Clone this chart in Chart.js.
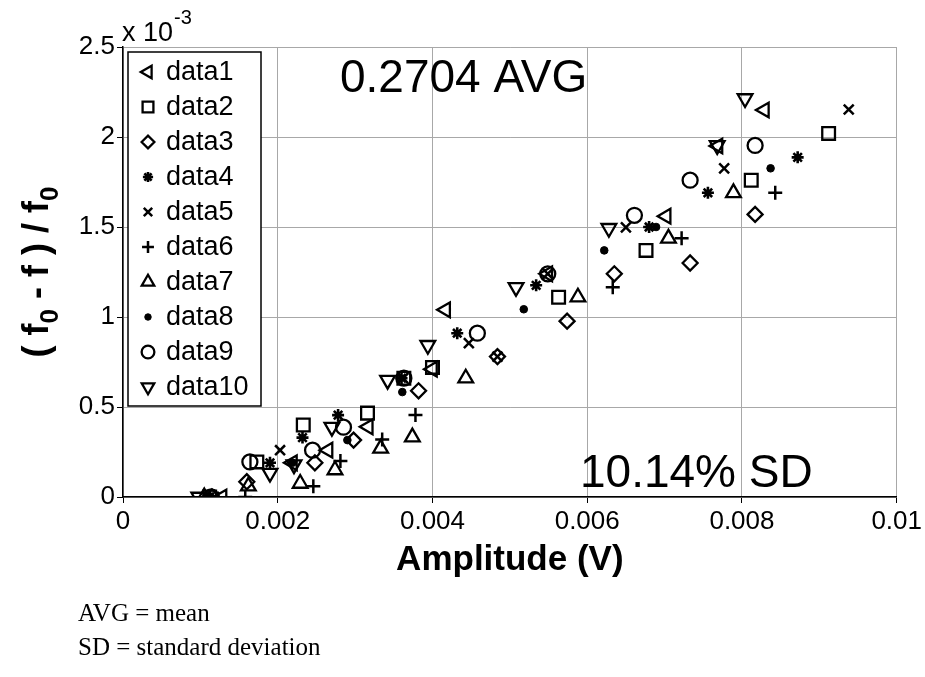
<!DOCTYPE html>
<html>
<head>
<meta charset="utf-8">
<script src="https://cdn.jsdelivr.net/npm/chart.js"></script>
<style>
  body { margin: 0; background: #fff; }
  #wrap { width: 925px; height: 677px; }
</style>
</head>
<body>
<div id="wrap"><canvas id="grafica" width="925" height="677"></canvas></div>
<script>
// valores (x en V, y en unidades de 10^-3)
var data1X = [0.00128, 0.00219, 0.00265, 0.00317, 0.00400, 0.00417, 0.00549, 0.00702, 0.00769, 0.00829];
var data1Y = [0, 0.19, 0.26, 0.39, 0.71, 1.04, 1.24, 1.56, 1.95, 2.15];
var data2X = [0.00112, 0.00173, 0.00233, 0.00316, 0.00363, 0.00400, 0.00563, 0.00676, 0.00812, 0.00912];
var data2Y = [0, 0.195, 0.40, 0.466, 0.66, 0.72, 1.11, 1.37, 1.76, 2.02];
var data3X = [0.00115, 0.00160, 0.00248, 0.00298, 0.00382, 0.00484, 0.00574, 0.00635, 0.00733, 0.00817];
var data3Y = [0, 0.085, 0.19, 0.316, 0.59, 0.78, 0.977, 1.24, 1.30, 1.57];
var data4X = [0.00112, 0.00190, 0.00232, 0.00278, 0.00360, 0.00432, 0.00534, 0.00680, 0.00756, 0.00872];
var data4Y = [0, 0.19, 0.33, 0.455, 0.66, 0.91, 1.176, 1.50, 1.69, 1.887];
var data5X = [0.00118, 0.00203, 0.00362, 0.00447, 0.00484, 0.00549, 0.00650, 0.00777, 0.00938];
var data5Y = [0, 0.26, 0.66, 0.855, 0.78, 1.24, 1.498, 1.826, 2.153];
var data6X = [0.00158, 0.00246, 0.00281, 0.00335, 0.00378, 0.00633, 0.00722, 0.00843];
var data6Y = [0, 0.06, 0.20, 0.32, 0.455, 1.165, 1.437, 1.69];
var data7X = [0.00105, 0.00162, 0.00229, 0.00274, 0.00333, 0.00374, 0.00443, 0.00588, 0.00705, 0.00789];
var data7Y = [0, 0.06, 0.075, 0.15, 0.27, 0.333, 0.66, 1.11, 1.437, 1.69];
var data8X = [0.00108, 0.00219, 0.00290, 0.00361, 0.00518, 0.00622, 0.00689, 0.00837];
var data8Y = [0, 0.19, 0.316, 0.583, 1.043, 1.37, 1.50, 1.826];
var data9X = [0.00114, 0.00164, 0.00245, 0.00285, 0.00363, 0.00458, 0.00549, 0.00661, 0.00733, 0.00817];
var data9Y = [0, 0.195, 0.26, 0.388, 0.66, 0.91, 1.24, 1.565, 1.76, 1.953];
var data10X = [0.00098, 0.00190, 0.00221, 0.00270, 0.00342, 0.00394, 0.00508, 0.00628, 0.00768, 0.00804];
var data10Y = [0, 0.133, 0.18, 0.388, 0.649, 0.843, 1.165, 1.493, 1.953, 2.214];

var seriesNames = ['data1', 'data2', 'data3', 'data4', 'data5', 'data6', 'data7', 'data8', 'data9', 'data10'];
var xTicks = [0, 0.002, 0.004, 0.006, 0.008, 0.01];
var yTicks = [0, 0.5, 1, 1.5, 2, 2.5];
var avgText = '0.2704 AVG';
var sdText = '10.14% SD';
var notas = ['AVG = mean', 'SD = standard deviation'];

var allX = [data1X, data2X, data3X, data4X, data5X, data6X, data7X, data8X, data9X, data10X];
var allY = [data1Y, data2Y, data3Y, data4Y, data5Y, data6Y, data7Y, data8Y, data9Y, data10Y];

// marcador de cada serie
var estilos = [
  {s: 'triangle', r: 8.5, rot: 270, bw: 2.3},
  {s: 'rect', r: 9, rot: 0, bw: 2.3},
  {s: 'rectRot', r: 7.5, rot: 0, bw: 2.3},
  {s: 'star', r: 6, rot: 0, bw: 2.6},
  {s: 'crossRot', r: 7, rot: 0, bw: 2.5},
  {s: 'cross', r: 7, rot: 0, bw: 2.5},
  {s: 'triangle', r: 8.5, rot: 0, bw: 2.3},
  {s: 'circle', r: 3.8, rot: 0, bw: 1, fill: true},
  {s: 'circle', r: 7.5, rot: 0, bw: 2.3},
  {s: 'triangle', r: 8.5, rot: 180, bw: 2.3}
];

var datasets = [];
for (var i = 0; i < seriesNames.length; i++) {
  var pts = [];
  for (var j = 0; j < allX[i].length; j++) {
    pts.push({x: allX[i][j], y: allY[i][j]});
  }
  datasets.push({
    label: seriesNames[i],
    data: pts,
    showLine: false,
    pointStyle: estilos[i].s,
    pointRadius: estilos[i].r,
    pointRotation: estilos[i].rot,
    pointBorderWidth: estilos[i].bw,
    borderColor: '#000',
    backgroundColor: estilos[i].fill ? '#000' : 'rgba(0,0,0,0)'
  });
}

var SANS = '"Liberation Sans", Arial, sans-serif';
var tickFont = {family: SANS, size: 26};

var textos = {
  id: 'textos',
  afterDraw: function(chart) {
    var ctx = chart.ctx;
    var area = chart.chartArea;
    ctx.save();
    ctx.fillStyle = '#000';

    // multiplicador del eje y
    ctx.textAlign = 'left';
    ctx.textBaseline = 'alphabetic';
    ctx.font = '27px ' + SANS;
    ctx.fillText('x 10', 122, 41);
    var w = ctx.measureText('x 10').width;
    ctx.font = '20px ' + SANS;
    ctx.fillText('-3', 122 + w + 1, 24);

    // titulo eje x
    ctx.font = 'bold 35px ' + SANS;
    ctx.textAlign = 'center';
    ctx.fillText('Amplitude (V)', (area.left + area.right) / 2, 570);

    // titulo eje y con subindices
    var partes = [['( ', 0], ['f', 0], ['0', 1], [' - ', 0], ['f', 0], [' ) / ', 0], ['f', 0], ['0', 1]];
    var fMain = 'bold 36px ' + SANS, fSub = 'bold 26px ' + SANS;
    var total = 0;
    partes.forEach(function(p) { ctx.font = p[1] ? fSub : fMain; total += ctx.measureText(p[0]).width; });
    ctx.translate(48, (area.top + area.bottom) / 2);
    ctx.rotate(-Math.PI / 2);
    ctx.textAlign = 'left';
    var px = -total / 2;
    partes.forEach(function(p) {
      ctx.font = p[1] ? fSub : fMain;
      ctx.fillText(p[0], px, p[1] ? 10 : 0);
      px += ctx.measureText(p[0]).width;
    });
    ctx.setTransform(1, 0, 0, 1, 0, 0);

    // anotaciones
    ctx.textAlign = 'left';
    ctx.font = '46px ' + SANS;
    ctx.fillText(avgText, 340, 92);
    ctx.fillText(sdText, 580, 487);

    // leyenda dentro del area
    var lx = 128, ly = 52, lw = 133, lh = 354;
    ctx.fillStyle = '#fff';
    ctx.fillRect(lx, ly, lw, lh);
    ctx.strokeStyle = '#000';
    ctx.lineWidth = 1.5;
    ctx.strokeRect(lx, ly, lw, lh);
    ctx.font = '27px ' + SANS;
    ctx.textBaseline = 'middle';
    for (var k = 0; k < seriesNames.length; k++) {
      var cy = 72 + k * 35;
      var e = estilos[k];
      ctx.fillStyle = e.fill ? '#000' : 'rgba(0,0,0,0)';
      ctx.strokeStyle = '#000';
      ctx.lineWidth = e.bw;
      Chart.helpers.drawPoint(ctx, {pointStyle: e.s, radius: e.r * 0.85, rotation: e.rot, borderWidth: e.bw}, 148, cy);
      ctx.fillStyle = '#000';
      ctx.fillText(seriesNames[k], 166, cy + 1);
    }

    // notas al pie
    ctx.textBaseline = 'alphabetic';
    ctx.font = '25px "Liberation Serif", "Times New Roman", serif';
    ctx.fillText(notas[0], 78, 621);
    ctx.fillText(notas[1], 78, 655);
    ctx.restore();
  }
};

var grafica = document.getElementById('grafica');
var chart = new Chart(grafica, {
  type: 'scatter',
  data: {datasets: datasets},
  plugins: [textos],
  options: {
    responsive: false,
    animation: false,
    layout: {padding: {left: 0, right: 28, top: 47, bottom: 0}},
    plugins: {legend: {display: false}, tooltip: {enabled: false}},
    scales: {
      x: {
        type: 'linear', min: 0, max: 0.01,
        afterBuildTicks: function(s) { s.ticks = xTicks.map(function(v) { return {value: v}; }); },
        ticks: {font: tickFont, color: '#000', maxRotation: 0, padding: 3,
          callback: function(v) { return String(Number(v.toFixed(4))); }},
        grid: {color: '#a8a8a8', lineWidth: 1, tickColor: '#000', tickLength: 6},
        border: {color: '#000', width: 1.5},
        afterFit: function(s) { s.height = 180; }
      },
      y: {
        type: 'linear', min: 0, max: 2.5,
        afterBuildTicks: function(s) { s.ticks = yTicks.map(function(v) { return {value: v}; }); },
        ticks: {font: tickFont, color: '#000', padding: 2,
          callback: function(v) { return String(v); }},
        grid: {color: '#a8a8a8', lineWidth: 1, tickColor: '#000', tickLength: 6},
        border: {color: '#000', width: 1.5},
        afterFit: function(s) { s.width = 123; }
      }
    }
  }
});
</script>
</body>
</html>
